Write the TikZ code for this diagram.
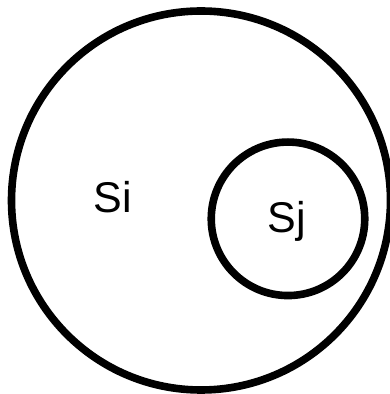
\documentclass[tikz,border=0pt]{standalone}
\usepackage{fontspec}
\setmainfont{Liberation Sans}
\begin{document}
\begin{tikzpicture}[x=1pt,y=1pt,
  setcircle/.style={draw=black, line width=7.6pt, circle, inner sep=0pt},
  setlabel/.style={font=\fontsize{43}{50}\selectfont, anchor=base, inner sep=0pt}]
\useasboundingbox (0,0) rectangle (390,394);
\clip (0,0) rectangle (390,394);
\node[setcircle, minimum size=379pt] (si) at (201,193.5) {};
\node[setcircle, minimum size=153.5pt] (sj) at (288,175.2) {};
\node[setlabel] (lsi) at (113,181.5) {Si};
\node[setlabel] (lsj) at (287,161) {Sj};
\end{tikzpicture}
\end{document}
